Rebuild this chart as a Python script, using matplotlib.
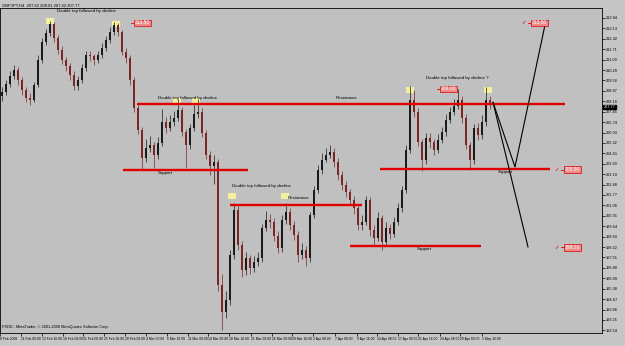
import matplotlib.pyplot as plt
from matplotlib.patches import Rectangle
import matplotlib.transforms as mtransforms

# GBPJPY H4 candles (open = previous close)
closes = [208.80, 209.34, 209.89, 210.30, 209.61, 208.93, 208.39, 208.25, 209.27, 210.98,
          212.21, 212.82, 213.43, 212.48, 211.66, 210.98, 210.57, 209.96, 209.20, 209.61,
          210.43, 211.32, 211.25, 210.98, 211.32, 211.80, 212.34, 212.89, 213.37, 212.89,
          211.52, 211.11, 209.61, 207.70, 206.20, 204.29, 204.98, 205.18, 204.50, 205.32,
          206.75, 206.34, 206.75, 207.02, 207.57, 206.07, 205.18, 206.34, 207.30, 207.43,
          206.00, 204.50, 203.75, 204.02, 195.63, 193.79, 194.61, 197.68, 200.75, 198.36,
          196.66, 197.47, 196.79, 197.20, 197.47, 199.52, 200.07, 199.93, 198.97, 198.16,
          200.07, 200.61, 199.73, 199.04, 197.68, 198.02, 197.47, 200.41, 202.11, 203.48,
          204.16, 204.50, 204.71, 204.02, 203.14, 202.45, 201.98, 201.43, 200.88, 199.73,
          199.93, 201.43, 199.38, 198.84, 200.20, 198.57, 199.52, 199.11, 199.93, 200.88,
          202.11, 204.84, 208.25, 207.43, 205.39, 204.16, 205.66, 205.39, 204.84, 205.52,
          206.07, 206.89, 207.43, 207.84, 208.25, 207.02, 205.18, 204.16, 206.34, 205.86,
          206.75, 208.25, 207.98]
highs = [209.10, 209.60, 210.20, 210.60, 210.50, 209.80, 209.10, 208.70, 209.50, 211.30,
         212.50, 213.10, 213.60, 213.55, 212.70, 211.90, 211.20, 210.80, 210.20, 209.90,
         210.70, 211.60, 211.60, 211.40, 211.60, 212.10, 212.60, 213.20, 213.55, 213.50,
         213.00, 211.80, 211.30, 209.80, 208.00, 206.40, 205.60, 205.80, 205.40, 205.70,
         207.60, 207.10, 207.20, 207.50, 208.30, 207.80, 206.30, 206.60, 207.90, 208.30,
         207.70, 206.20, 204.80, 204.50, 204.20, 196.40, 195.20, 198.00, 201.25, 201.00,
         198.60, 197.90, 197.70, 197.60, 197.90, 199.80, 200.70, 200.50, 200.20, 199.30,
         200.40, 201.20, 200.90, 200.00, 199.30, 198.50, 198.30, 200.60, 202.40, 203.80,
         204.60, 205.00, 205.20, 205.00, 204.30, 203.40, 202.70, 202.20, 201.70, 201.10,
         200.40, 201.70, 201.60, 199.70, 200.60, 200.40, 199.90, 199.80, 200.30, 201.20,
         202.40, 205.20, 209.20, 208.90, 207.70, 205.60, 206.00, 206.00, 205.60, 205.90,
         206.40, 207.30, 207.80, 208.30, 209.00, 208.50, 207.30, 205.40, 206.60, 206.70,
         207.20, 209.10, 208.50]
lows = [208.20, 208.60, 209.10, 209.70, 209.30, 208.60, 208.10, 207.90, 208.10, 209.10,
        210.80, 212.00, 212.60, 212.20, 211.40, 210.70, 210.20, 209.60, 208.90, 208.95,
        209.40, 210.20, 210.90, 210.60, 210.80, 211.10, 211.60, 212.10, 212.70, 212.60,
        211.30, 210.80, 209.30, 207.40, 205.90, 203.50, 204.00, 204.70, 203.60, 204.20,
        205.10, 206.00, 206.10, 206.50, 206.80, 205.80, 203.60, 204.90, 206.10, 207.00,
        205.70, 204.20, 203.10, 202.50, 195.20, 192.55, 193.40, 194.30, 197.40, 198.00,
        196.20, 196.30, 196.40, 196.50, 196.90, 197.20, 199.30, 199.50, 198.60, 197.80,
        197.90, 199.80, 199.40, 198.70, 197.20, 197.40, 196.90, 197.20, 200.20, 201.90,
        203.20, 204.00, 204.30, 203.70, 202.80, 202.10, 201.60, 201.10, 200.50, 199.40,
        199.40, 199.70, 199.00, 198.30, 198.60, 198.00, 198.30, 198.80, 198.90, 199.70,
        200.60, 201.90, 204.60, 207.10, 205.10, 203.40, 203.90, 205.00, 204.50, 204.60,
        205.30, 205.80, 206.70, 207.20, 207.60, 206.70, 204.90, 203.50, 203.90, 205.50,
        205.60, 206.50, 207.60]
first_open = 208.50

date_labels = ['8 Feb 2008', '11 Feb 00:00', '13 Feb 16:00', '18 Feb 08:00', '21 Feb 00:00',
               '25 Feb 16:00', '28 Feb 08:00', '4 Mar 00:00', '6 Mar 16:00', '11 Mar 08:00',
               '14 Mar 00:00', '18 Mar 16:00', '21 Mar 08:00', '26 Mar 00:00', '28 Mar 16:00',
               '2 Apr 08:00', '7 Apr 00:00', '9 Apr 16:00', '14 Apr 08:00', '17 Apr 00:00',
               '21 Apr 16:00', '24 Apr 08:00', '29 Apr 00:00', '1 May 16:00']
date_pos = [-0.5, 4.75, 10, 15.25, 20.25, 25.5, 30.75, 36, 41.25, 46.5, 51.5, 56.75,
            62.25, 67.5, 72.5, 77.75, 83.25, 88.75, 93.75, 99, 104, 109.5, 114.5, 120]
price_ticks = [round(213.84 - 0.71 * k, 2) for k in range(31)]

# horizontal support / resistance lines: (price, x start, x end)
levels = [(208.00, 33.75, 140.75), (203.48, 30.25, 61.5), (201.10, 57.0, 90.0),
          (203.52, 94.5, 137.0), (198.28, 87.0, 119.75)]
# yellow markers on the tops: (x, price)
tops = [(12, 213.64), (28.5, 213.43), (43.75, 208.20), (48.5, 208.20),
        (57.5, 201.70), (70.75, 201.70), (102, 208.93), (121.5, 208.93)]
notes = [(13.75, 214.18, 'Double top followed by decline'),
         (39.0, 208.28, 'Double top followed by decline'),
         (83.5, 208.22, 'Resistance'),
         (39.0, 203.15, 'Support'),
         (57.5, 202.25, 'Double top followed by decline'),
         (71.5, 201.40, 'Resistance'),
         (106.0, 209.62, 'Double top followed by decline ?'),
         (124.0, 203.22, 'Support'),
         (103.75, 197.95, 'Support')]
# price tags: (x, price, with check mark)
tags = [(33.25, 213.50, False), (109.75, 209.00, False), (132.5, 213.50, True),
        (140.75, 203.50, True), (140.75, 198.20, True)]
# hand drawn projections
proj_x1 = [122.75, 128.25, 135.75]
proj_y1 = [208.09, 203.68, 213.37]
proj_x2 = [122.75, 131.5]
proj_y2 = [208.09, 198.23]

fig = plt.figure(figsize=(6.25, 3.46), dpi=100, facecolor='#c6c6c6')
ax = fig.add_axes([0.0, 13 / 346, 602 / 625, 325 / 346])
ax.set_facecolor('#c0c0c0')

opens = [first_open] + closes[:-1]
xs = list(range(len(closes)))
cols = ['#1a1a1a' if c >= o else '#7a2626' for o, c in zip(opens, closes)]
ax.vlines(xs, lows, highs, colors=cols, lw=0.5, zorder=3)
ax.bar(xs, [c - o for o, c in zip(opens, closes)], bottom=opens, width=0.5,
       color=cols, linewidth=0, zorder=3)

for x, p in tops:
    ax.add_patch(Rectangle((x - 1.1, p - 0.2), 2.2, 0.4, facecolor='#f4eea0',
                           edgecolor='none', zorder=2))
for p, x0, x1 in levels:
    ax.plot([x0, x1], [p, p], color='#e00000', lw=1.7, zorder=4, solid_capstyle='butt')
for x, p, s in notes:
    ax.text(x, p, s, fontsize=3.2, family='Liberation Sans', color='black',
            ha='left', va='bottom', zorder=5)
for x, p, chk in tags:
    ax.plot([x - 1.0, x - 0.2], [p, p], color='#e00000', lw=0.6, zorder=5)
    ax.text(x, p, '%.2f' % p, fontsize=3.6, family='Liberation Sans', color='white',
            ha='left', va='center', zorder=6,
            bbox=dict(boxstyle='square,pad=0.15', fc='#ee8a8a', ec='#d80000', lw=0.5))
    if chk:
        ax.text(x - 2.2, p, '\u2713', fontsize=4, color='#d80000', ha='center',
                va='center', zorder=6)

ax.plot(proj_x1, proj_y1, color='black', lw=0.8, zorder=5)
ax.plot(proj_x2, proj_y2, color='black', lw=0.8, zorder=5)

ax.set_xlim(-0.5, 150)
ax.set_ylim(192.36, 214.52)
ax.yaxis.tick_right()
ax.set_yticks(price_ticks)
ax.set_yticklabels(['%.2f' % t for t in price_ticks])
ax.set_xticks(date_pos)
ax.set_xticklabels(date_labels, ha='left')
ax.tick_params(axis='y', labelsize=2.8, length=2, width=0.5, pad=1, colors='black')
ax.tick_params(axis='x', labelsize=2.4, length=2, width=0.5, pad=1, colors='black')
for lb in ax.get_xticklabels() + ax.get_yticklabels():
    lb.set_family('Liberation Sans')
for sp in ax.spines.values():
    sp.set_linewidth(0.6)
    sp.set_color('black')

trans = mtransforms.blended_transform_factory(ax.transAxes, ax.transData)
ax.text(1.003, 207.77, '207.77', transform=trans, fontsize=2.8, color='white',
        family='Liberation Sans', ha='left', va='center', zorder=7,
        bbox=dict(boxstyle='square,pad=0.1', fc='black', ec='black'))

fig.text(0.003, 0.99, 'GBPJPY,H4  207.62 208.01 207.42 207.77', fontsize=3.0,
         family='Liberation Sans', ha='left', va='top')
ax.text(0.004, 0.012, 'FXDD - MetaTrader, \u00a9 2001-2008 MetaQuotes Software Corp.',
        transform=ax.transAxes, fontsize=2.8, family='Liberation Sans', ha='left', va='bottom')

fig.savefig('out.png', dpi=100, facecolor=fig.get_facecolor())
